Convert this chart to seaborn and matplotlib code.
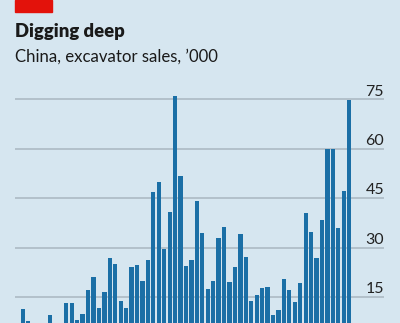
import matplotlib
matplotlib.use("Agg")
import matplotlib.pyplot as plt
import matplotlib.patches as mpatches
import seaborn as sns
import pandas as pd

# Monthly excavator sales in China, '000 (bars)
values = [11.3, 7.8, 5.0, 4.0, 5.5, 9.5, 6.0, 5.0, 13.1, 13.1,
          8.0, 9.8, 17.1, 21.1, 11.7, 16.5, 26.8, 25.0, 13.7, 11.6,
          24.0, 24.7, 19.9, 26.2, 46.8, 49.9, 29.5, 40.7, 75.9, 51.7,
          24.4, 26.2, 44.1, 34.5, 17.3, 19.8, 32.9, 36.2, 19.5, 24.0,
          34.1, 27.1, 13.8, 15.6, 17.7, 18.0, 9.4, 11.1, 20.4, 17.1,
          13.6, 19.3, 40.4, 34.6, 26.8, 38.3, 60.0, 60.0, 36.0, 47.2,
          74.8]
months = list(range(len(values)))
y_ticks = [15, 30, 45, 60, 75]
y_tick_labels = ["15", "30", "45", "60", "75"]
title = "Digging deep"
subtitle = "China, excavator sales, \u2019000"

BG = "#d6e6f0"
BAR = "#1b6fa6"
GRID = "#a9b7c0"

sns.set_theme(style="white")
plt.rcParams["font.family"] = ["Lato", "DejaVu Sans"]

W, H = 400, 323
fig = plt.figure(figsize=(W / 100, H / 100), dpi=100, facecolor=BG)

# axes: x from px 15 to 384, y from px 82.8 (value 80) to 323 (value ~7.1)
ax = fig.add_axes([15 / W, 0, (384 - 15) / W, (323 - 82.8) / H])
ax.set_facecolor(BG)

df = pd.DataFrame({"month": months, "sales": values})
sns.barplot(data=df, x="month", y="sales", color=BAR, saturation=1,
            width=0.79, ax=ax, zorder=3, edgecolor="none")

ax.set_xlim(-1.43, 66.4)
ax.set_ylim(7.1, 80)

for t, lab in zip(y_ticks, y_tick_labels):
    ax.axhline(t, color=GRID, lw=1.1, zorder=1)
    ax.text(1.0, t + 1.1, lab, transform=ax.get_yaxis_transform(),
            ha="right", va="baseline", fontsize=11.5, color="#222222")

ax.set_xticks([])
ax.set_yticks([])
ax.set_xlabel("")
ax.set_ylabel("")
for s in ax.spines.values():
    s.set_visible(False)

# red tag
fig.patches.append(mpatches.Rectangle((15 / W, 1 - 12 / H), 37 / W, 12 / H,
                                      transform=fig.transFigure,
                                      color="#e3120b", zorder=5))

fig.text(15 / W, 1 - 36.7 / H, title, fontsize=13.3, fontweight="heavy",
         color="#1a1a1a", ha="left", va="baseline")
fig.text(15 / W, 1 - 62 / H, subtitle, fontsize=12.1, color="#1a1a1a",
         ha="left", va="baseline")

fig.savefig("out.png", dpi=100, facecolor=BG)
